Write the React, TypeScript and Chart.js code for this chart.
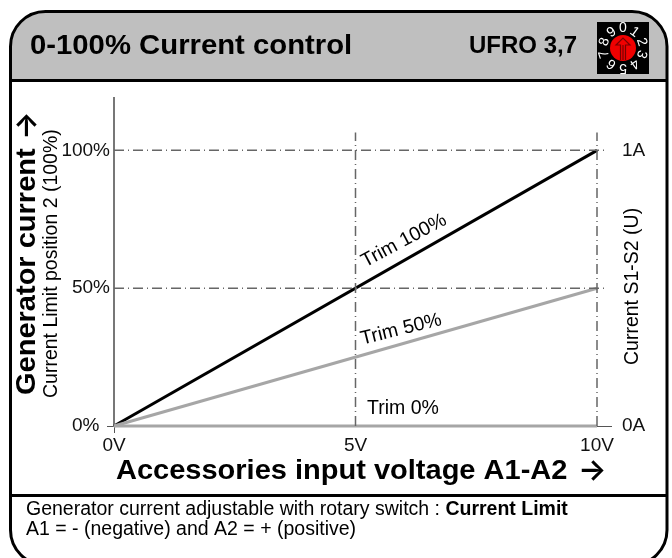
import React, { useEffect, useRef } from "react";
import { Chart, registerables } from "chart.js";

Chart.register(...registerables);

const xTicks = [0, 5, 10];
const yTicks = [0, 50, 100];
const xLabels = ["0V", "5V", "10V"];
const yLabels = ["0%  ", "50%", "100%"];
const rightLabels = ["0A", "", "1A"];
const trim100 = [{ x: 0, y: 0 }, { x: 10, y: 100 }];
const trim50 = [{ x: 0, y: 0 }, { x: 10, y: 50 }];
const trim0 = [{ x: 0, y: 0 }, { x: 10, y: 0 }];
const ref100 = [{ x: 0, y: 100 }, { x: 10.2, y: 100 }];
const ref50 = [{ x: 0, y: 50 }, { x: 10.2, y: 50 }];
const ref5V = [{ x: 5, y: 0 }, { x: 5, y: 106.5 }];
const ref10V = [{ x: 10, y: 0 }, { x: 10, y: 106.5 }];
const FONT = '"Liberation Sans", Arial, sans-serif';
const ARROW_FONT = 'Inter, "DejaVu Sans", sans-serif';
const DASH = [10, 4, 1, 4];
const TEXT = "#111";

const framePlugin = {
  id: "frame",
  beforeDraw(chart: any) {
    const c = chart.ctx;
    const l = 10.5, t = 11.5, r = 667, b = 565, R = 35;
    c.save();
    c.beginPath();
    c.roundRect(l, t, r - l, b - t, R);
    c.fillStyle = "#fff";
    c.fill();
    c.save();
    c.clip();
    c.fillStyle = "#bfbfbf";
    c.fillRect(l, t, r - l, 80.5 - t);
    c.restore();
    c.lineWidth = 3;
    c.strokeStyle = "#000";
    c.stroke();
    c.beginPath();
    c.moveTo(l, 80.5); c.lineTo(r, 80.5);
    c.moveTo(l, 495.5); c.lineTo(r, 495.5);
    c.stroke();
    c.restore();
  },
  afterDraw(chart: any) {
    const c = chart.ctx;
    const sx = chart.scales.x, sy = chart.scales.y;
    const text = (s: string, x: number, y: number, font: string, rot = 0, stretch = 1, color = "#000") => {
      c.save();
      c.translate(x, y);
      c.rotate((rot * Math.PI) / 180);
      c.scale(stretch, 1);
      c.font = font;
      c.textAlign = "left";
      c.textBaseline = "alphabetic";
      c.fillStyle = color;
      c.fillText(s, 0, 0);
      c.restore();
    };
    const body = `19.5px ${FONT}`;
    const lead = "Generator current adjustable with rotary switch : ";
    text("0-100% Current control", 30, 54, `bold 28px ${FONT}`, 0, 1.046);
    text("UFRO 3,7", 469, 53, `bold 23px ${FONT}`, 0, 1.043);
    text("Generator current", 35, 395, `bold 28px ${FONT}`, -90, 1.036);
    text("→", 36, 140, `600 30px ${ARROW_FONT}`, -90);
    text("Current Limit position 2 (100%)", 57, 398, body, -90);
    text("Current S1-S2 (U)", 638, 365, body, -90);
    text("Accessories input voltage A1-A2", 116, 479, `bold 28px ${FONT}`, 0, 1.036);
    text("→", 578, 480, `600 30px ${ARROW_FONT}`);
    text(lead, 26, 515, body);
    c.save();
    c.font = body;
    const w = c.measureText(lead).width;
    c.restore();
    text("Current Limit", 26 + w, 515, `bold 19.5px ${FONT}`);
    text("A1 = - (negative) and A2 = + (positive)", 26, 535, body);
    text("Trim 100%", sx.getPixelForValue(5.2), sy.getPixelForValue(57.5), body, -28);
    text("Trim 50%", sx.getPixelForValue(5.14), sy.getPixelForValue(29.5), body, -14);
    text("Trim 0%", sx.getPixelForValue(5.24), sy.getPixelForValue(4.4), body);

    // rotary switch
    const cx = 623, cy = 48;
    c.fillStyle = "#000";
    c.fillRect(597, 22, 52, 52);
    for (let i = 0; i < 10; i++) {
      const a = (i * 36 * Math.PI) / 180;
      c.save();
      c.translate(cx + Math.sin(a) * 19.5, cy - Math.cos(a) * 19.5);
      c.rotate(a);
      c.font = `14px ${FONT}`;
      c.textAlign = "center";
      c.textBaseline = "middle";
      c.fillStyle = "#fff";
      c.fillText(String(i), 0, 0);
      c.restore();
    }
    c.beginPath();
    c.arc(cx, cy, 13, 0, Math.PI * 2);
    c.fillStyle = "#f00000";
    c.fill();
    c.beginPath();
    c.moveTo(cx - 2.5, cy + 12);
    c.lineTo(cx - 2.5, cy - 3);
    c.lineTo(cx - 7, cy - 3);
    c.lineTo(cx, cy - 10);
    c.lineTo(cx + 7, cy - 3);
    c.lineTo(cx + 2.5, cy - 3);
    c.lineTo(cx + 2.5, cy + 12);
    c.moveTo(cx, cy - 3); c.lineTo(cx, cy + 12);
    c.strokeStyle = "#700";
    c.lineWidth = 1.2;
    c.stroke();
  },
};

const refStyle = {
  borderColor: "#666",
  borderWidth: 1.5,
  borderDash: DASH,
  pointRadius: 0,
  clip: false as const,
};

const zeroTickColor = (ctx: any) => (ctx.tick && ctx.tick.value === 0 ? "#555" : "rgba(0,0,0,0)");

export default function App() {
  const ref = useRef<HTMLCanvasElement>(null);
  useEffect(() => {
    const chart = new Chart(ref.current as HTMLCanvasElement, {
      type: "line",
      data: {
        datasets: [
          { data: ref100, ...refStyle },
          { data: ref50, ...refStyle },
          { data: ref5V, ...refStyle },
          { data: ref10V, ...refStyle },
          { data: trim0, borderColor: "#a6a6a6", borderWidth: 3, pointRadius: 0, clip: false as const },
          { data: trim50, borderColor: "#a6a6a6", borderWidth: 3, pointRadius: 0, clip: false as const },
          { data: trim100, borderColor: "#000", borderWidth: 3, pointRadius: 0, clip: false as const },
        ],
      } as any,
      options: {
        animation: false,
        responsive: false,
        layout: { padding: { top: 98, left: 0, right: 0, bottom: 0 } },
        plugins: { legend: { display: false }, tooltip: { enabled: false } },
        scales: {
          x: {
            type: "linear",
            min: 0,
            max: 10,
            afterFit: (s: any) => { s.height = 132; },
            afterBuildTicks: (s: any) => { s.ticks = xTicks.map((value) => ({ value })); },
            grid: { drawOnChartArea: false, tickLength: 7, color: zeroTickColor },
            border: { display: false },
            ticks: {
              padding: 1,
              maxRotation: 0,
              autoSkip: false,
              color: TEXT,
              font: { family: FONT, size: 19 },
              callback: (v: any) => xLabels[xTicks.indexOf(v)],
            },
          },
          y: {
            type: "linear",
            position: "left",
            min: 0,
            max: 119,
            afterFit: (s: any) => { s.width = 114; },
            afterBuildTicks: (s: any) => { s.ticks = yTicks.map((value) => ({ value })); },
            grid: { drawOnChartArea: false, tickLength: 7, color: zeroTickColor },
            border: { display: true, color: "#777", width: 2 },
            ticks: {
              padding: -3,
              autoSkip: false,
              color: TEXT,
              font: { family: FONT, size: 19 },
              callback: (v: any) => yLabels[yTicks.indexOf(v)],
            },
          },
          y2: {
            type: "linear",
            position: "right",
            min: 0,
            max: 119,
            afterFit: (s: any) => { s.width = 75; },
            afterBuildTicks: (s: any) => { s.ticks = yTicks.map((value) => ({ value })); },
            grid: { drawOnChartArea: false, tickLength: 15, color: zeroTickColor },
            border: { display: false },
            ticks: {
              padding: 10,
              autoSkip: false,
              color: TEXT,
              font: { family: FONT, size: 19 },
              callback: (v: any) => rightLabels[yTicks.indexOf(v)],
            },
          },
        },
      } as any,
      plugins: [framePlugin],
    });
    return () => chart.destroy();
  }, []);
  return (
    <canvas
      ref={ref}
      width={672}
      height={558}
      style={{ position: "absolute", left: 0, top: 0, width: 672, height: 558 }}
    />
  );
}
